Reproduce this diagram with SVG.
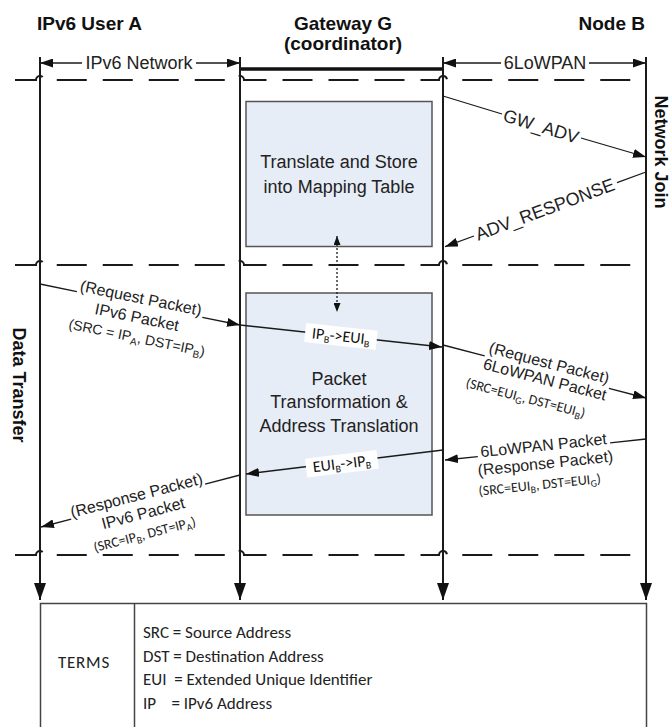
<svg xmlns="http://www.w3.org/2000/svg" width="671" height="727" viewBox="0 0 671 727">
  <style>
    .head { font-family: "Liberation Sans", Arial, sans-serif; font-weight: bold; font-size: 19px; fill: #111; }
    .side { font-family: "Liberation Sans", Arial, sans-serif; font-weight: bold; font-size: 18px; fill: #111; }
    .net { font-family: "Liberation Sans", Arial, sans-serif; font-size: 18px; fill: #222; }
    .box-text { font-family: "Liberation Sans", Arial, sans-serif; font-size: 18px; fill: #222; text-anchor: middle; }
    .lbl { font-family: "Liberation Sans", Arial, sans-serif; font-size: 16px; fill: #222; text-anchor: middle; }
    .lbl-s { font-family: "Liberation Sans", Arial, sans-serif; font-size: 14px; fill: #222; text-anchor: middle; }
    .cal { font-family: Carlito, Lato, "Open Sans", sans-serif; font-size: 14px; fill: #222; text-anchor: middle; }
    .cal-m { font-family: Carlito, Lato, "Open Sans", sans-serif; font-size: 16px; fill: #111; text-anchor: middle; }
    .terms { font-family: Carlito, Lato, "Open Sans", sans-serif; font-size: 17px; fill: #222; white-space: pre; }
    .sub { font-size: 10px; }
    .life { stroke: #1a1a1a; stroke-width: 2; fill: none; }
    .phase { stroke: #1a1a1a; stroke-width: 2; fill: none; stroke-dasharray: 30 16; stroke-dashoffset: -5; }
    .msg { stroke: #1a1a1a; stroke-width: 1.3; fill: none; }
    .proc { fill: #e7edf7; stroke: #555; stroke-width: 1.5; }
  </style>
  <defs>
    <marker id="ah" viewBox="0 0 13 9" refX="13" refY="4.5" markerWidth="13" markerHeight="9" markerUnits="userSpaceOnUse" orient="auto-start-reverse">
      <path d="M0,0 L13,4.5 L0,9 z" fill="#111"/>
    </marker>
    <marker id="ahBig" viewBox="0 0 12 17" refX="6" refY="17" markerWidth="12" markerHeight="17" markerUnits="userSpaceOnUse" orient="0">
      <path d="M0,0 L12,0 L6,17 z" fill="#111"/>
    </marker>
    <marker id="ahSm" viewBox="0 0 9 7" refX="9" refY="3.5" markerWidth="9" markerHeight="7" markerUnits="userSpaceOnUse" orient="auto-start-reverse">
      <path d="M0,0 L9,3.5 L0,7 z" fill="#111"/>
    </marker>
  </defs>

  <!-- column headings -->
  <g id="heading-user-a"><text class="head" x="37" y="30">IPv6 User A</text></g>
  <g id="heading-gateway">
    <text class="head" x="343" y="30" text-anchor="middle">Gateway G</text>
    <text class="head" x="343" y="50" text-anchor="middle">(coordinator)</text>
  </g>
  <g id="heading-node-b"><text class="head" x="645" y="30" text-anchor="end">Node B</text></g>

  <!-- network span markers -->
  <g id="span-ipv6">
    <path class="msg" d="M82,63 H40" marker-end="url(#ah)"/>
    <path class="msg" d="M196,63 H240" marker-end="url(#ah)"/>
    <text class="net" x="139" y="69" text-anchor="middle">IPv6 Network</text>
  </g>
  <g id="span-6lowpan">
    <path class="msg" d="M501,63 H443" marker-end="url(#ah)"/>
    <path class="msg" d="M589,63 H646" marker-end="url(#ah)"/>
    <text class="net" x="545" y="69" text-anchor="middle">6LoWPAN</text>
  </g>
  <path id="gateway-bar" d="M240,69 H443" stroke="#111" stroke-width="3.5" fill="none"/>

  <!-- phase separators -->
  <g id="phases">
    <path class="phase" d="M10,80 H36 A4,4 0 0 1 44,80 H236 A4,4 0 0 1 244,80 H439 A4,4 0 0 1 447,80 H646"/>
    <path class="phase" d="M10,265 H36 A4,4 0 0 1 44,265 H236 A4,4 0 0 1 244,265 H439 A4,4 0 0 1 447,265 H646"/>
    <path class="phase" d="M10,555 H36 A4,4 0 0 1 44,555 H236 A4,4 0 0 1 244,555 H439 A4,4 0 0 1 447,555 H646"/>
  </g>

  <!-- lifelines -->
  <g id="lifelines">
    <path class="life" d="M40,57 V600" marker-end="url(#ahBig)"/>
    <path class="life" d="M240,57 V600" marker-end="url(#ahBig)"/>
    <path class="life" d="M443,57 V600" marker-end="url(#ahBig)"/>
    <path class="life" d="M646,57 V600" marker-end="url(#ahBig)"/>
  </g>

  <!-- phase labels -->
  <g id="phase-network-join"><text class="side" transform="translate(655,152) rotate(90)" text-anchor="middle">Network Join</text></g>
  <g id="phase-data-transfer"><text class="side" transform="translate(13,385) rotate(90)" text-anchor="middle">Data Transfer</text></g>

  <!-- gateway processing blocks -->
  <g id="mapping-table">
    <rect class="proc" x="246" y="101.5" width="186" height="145"/>
    <text class="box-text" x="339" y="168">Translate and Store</text>
    <text class="box-text" x="339" y="192.5">into Mapping Table</text>
  </g>
  <g id="packet-transformation">
    <rect class="proc" x="246" y="293" width="186" height="222"/>
    <text class="box-text" x="339" y="384.5">Packet</text>
    <text class="box-text" x="339" y="408">Transformation &amp;</text>
    <text class="box-text" x="339" y="431.5">Address Translation</text>
  </g>

  <!-- messages -->
  <g id="connectors">
    <path class="msg" d="M337,236 V312" stroke-dasharray="2 2" marker-start="url(#ahSm)" marker-end="url(#ahSm)"/>
    <!-- network join -->
    <path class="msg" d="M443,96 L502,114"/>
    <path class="msg" d="M581,138 L646,157" marker-end="url(#ah)"/>
    <path class="msg" d="M646,172 L617,182.7"/>
    <path class="msg" d="M474,236 L445,246.7" marker-end="url(#ah)"/>
    <!-- request path -->
    <path class="msg" d="M40,284 L76.9,291.6"/>
    <path class="msg" d="M202.3,317.3 L240,325" marker-end="url(#ah)"/>
    <path class="msg" d="M240,325 L442,347" marker-end="url(#ah)"/>
    <path class="msg" d="M443,345 L484.7,355.9"/>
    <path class="msg" d="M608.9,388.3 L646,398" marker-end="url(#ah)"/>
    <!-- response path -->
    <path class="msg" d="M646,439 L610.1,442.8"/>
    <path class="msg" d="M477.8,456.6 L445,460" marker-end="url(#ah)"/>
    <path class="msg" d="M443,450 L246,474" marker-end="url(#ah)"/>
    <path class="msg" d="M240,475 L205.1,484.1"/>
    <path class="msg" d="M71.2,519.1 L41,527" marker-end="url(#ah)"/>
  </g>

  <!-- message labels -->
  <g id="labels">
    <text class="net" transform="translate(541,126.5) rotate(17)" text-anchor="middle" y="6">GW_ADV</text>
    <text class="net" transform="translate(545,209.5) rotate(-20.4)" text-anchor="middle" y="6">ADV_RESPONSE</text>

    <g transform="translate(139.6,304.4) rotate(11.585)">
      <text class="lbl" y="-1">(Request Packet)</text>
      <text class="lbl" y="18.5">IPv6 Packet</text>
      <text class="lbl-s" x="4" y="38">(SRC = IP<tspan class="sub" dy="3">A</tspan><tspan dy="-3">, DST=IP</tspan><tspan class="sub" dy="3">B</tspan><tspan dy="-3">)</tspan></text>
    </g>

    <g transform="translate(341,335.9) rotate(6.185)">
      <rect x="-36" y="-9" width="72" height="19" fill="#fff"/>
      <text class="cal-m" y="5.5">IP<tspan class="sub" dy="3">B</tspan><tspan dy="-3">-&gt;EUI</tspan><tspan class="sub" dy="3">B</tspan></text>
    </g>

    <g transform="translate(546.8,372.1) rotate(14.63)">
      <text class="lbl" y="-4">(Request Packet)</text>
      <text class="lbl" y="13">6LoWPAN Packet</text>
      <text class="cal" x="-14" y="35">(SRC=EUI<tspan class="sub" dy="3">G</tspan><tspan dy="-3">, DST=EUI</tspan><tspan class="sub" dy="3">B</tspan><tspan dy="-3">)</tspan></text>
    </g>

    <g transform="translate(544,449.7) rotate(-5.96)">
      <text class="lbl" y="1">6LoWPAN Packet</text>
      <text class="lbl" y="19">(Response Packet)</text>
      <text class="cal" x="-8" y="39">(SRC=EUI<tspan class="sub" dy="3">B</tspan><tspan dy="-3">, DST=EUI</tspan><tspan class="sub" dy="3">G</tspan><tspan dy="-3">)</tspan></text>
    </g>

    <g transform="translate(341.7,462.3) rotate(-6.94)">
      <rect x="-36" y="-8" width="72" height="19" fill="#fff"/>
      <text class="cal-m" y="6.5">EUI<tspan class="sub" dy="3">B</tspan><tspan dy="-3">-&gt;IP</tspan><tspan class="sub" dy="3">B</tspan></text>
    </g>

    <g transform="translate(138.1,501.6) rotate(-14.64)">
      <text class="lbl" y="-1">(Response Packet)</text>
      <text class="lbl" x="2" y="18">IPv6 Packet</text>
      <text class="cal" x="-2" y="38">(SRC=IP<tspan class="sub" dy="3">B</tspan><tspan dy="-3">, DST=IP</tspan><tspan class="sub" dy="3">A</tspan><tspan dy="-3">)</tspan></text>
    </g>
  </g>

  <!-- legend -->
  <g id="terms">
    <rect x="40.5" y="603.5" width="606" height="140" fill="#fff" stroke="#444" stroke-width="1.5"/>
    <path d="M134.5,603.5 V727" stroke="#444" stroke-width="1.5"/>
    <text class="terms" x="84" y="668" text-anchor="middle" letter-spacing="0.8">TERMS</text>
    <text class="terms" x="143" y="638">SRC = Source Address</text>
    <text class="terms" x="143" y="662">DST = Destination Address</text>
    <text class="terms" x="143" y="685">EUI  = Extended Unique Identifier</text>
    <text class="terms" x="143" y="709">IP    = IPv6 Address</text>
  </g>
</svg>
